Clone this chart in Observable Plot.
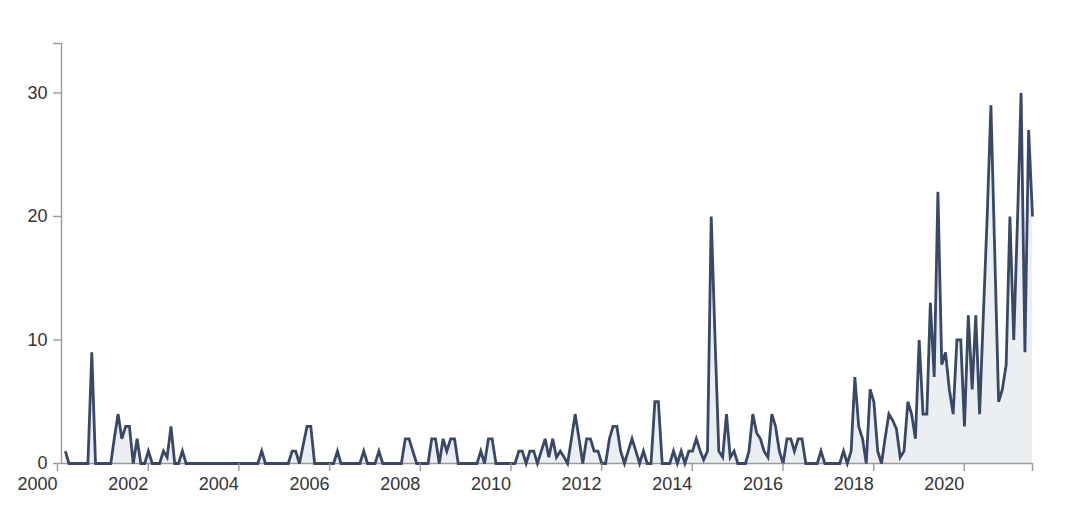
<!DOCTYPE html>
<html>
<head>
<meta charset="utf-8">
<script src="https://cdn.jsdelivr.net/npm/d3@7"></script>
<script src="https://cdn.jsdelivr.net/npm/@observablehq/plot@0.6"></script>
<style>
  html, body { margin: 0; padding: 0; background: #ffffff; }
  #chart svg { display: block; }
</style>
</head>
<body>
<div id="chart"></div>
<script>
// Monthly counts, one array per year (2000 starts in February)
const counts2000 = [1, 0, 0, 0, 0, 0, 0, 9, 0, 0, 0];
const counts2001 = [0, 0, 2, 4, 2, 3, 3, 0, 2, 0, 0, 1];
const counts2002 = [0, 0, 0, 1, 0.5, 3, 0, 0, 1, 0, 0, 0];
const counts2003 = [0, 0, 0, 0, 0, 0, 0, 0, 0, 0, 0, 0];
const counts2004 = [0, 0, 0, 0, 0, 1, 0, 0, 0, 0, 0, 0];
const counts2005 = [0, 1, 1, 0, 1.5, 3, 3, 0, 0, 0, 0, 0];
const counts2006 = [0, 1, 0, 0, 0, 0, 0, 0, 1, 0, 0, 0];
const counts2007 = [1, 0, 0, 0, 0, 0, 0, 2, 2, 1, 0, 0];
const counts2008 = [0, 0, 2, 2, 0, 2, 1, 2, 2, 0, 0, 0];
const counts2009 = [0, 0, 0, 1, 0, 2, 2, 0, 0, 0, 0, 0];
const counts2010 = [0, 1, 1, 0, 1, 1, 0, 1, 2, 0.5, 2, 0.5];
const counts2011 = [1, 0.5, 0, 2, 4, 2, 0, 2, 2, 1, 1, 0];
const counts2012 = [0, 2, 3, 3, 1, 0, 1, 2, 1, 0, 1, 0];
const counts2013 = [0, 5, 5, 0, 0, 0, 1, 0, 1, 0, 1, 1];
const counts2014 = [2, 1, 0.3, 1, 20, 10, 1, 0.5, 4, 0.5, 1, 0];
const counts2015 = [0, 0, 1, 4, 2.5, 2, 1, 0.5, 4, 3, 1, 0];
const counts2016 = [2, 2, 1, 2, 2, 0, 0, 0, 0, 1, 0, 0];
const counts2017 = [0, 0, 0, 1, 0, 1, 7, 3, 2, 0, 6, 5];
const counts2018 = [1, 0, 2, 4, 3.5, 2.8, 0.5, 1, 5, 4, 2, 10];
const counts2019 = [4, 4, 13, 7, 22, 8, 9, 6, 4, 10, 10, 3];
const counts2020 = [12, 6, 12, 4, 12, 20, 29, 17, 5, 6, 8, 20];
const counts2021 = [10, 20, 30, 9, 27, 20];

const yTicks = [0, 10, 20, 30];
const xTickYears = [2000, 2002, 2004, 2006, 2008, 2010, 2012, 2014, 2016, 2018, 2020];

// build the table: month i counts from February 2000
const allCounts = [].concat(
  counts2000, counts2001, counts2002, counts2003, counts2004, counts2005,
  counts2006, counts2007, counts2008, counts2009, counts2010, counts2011,
  counts2012, counts2013, counts2014, counts2015, counts2016, counts2017,
  counts2018, counts2019, counts2020, counts2021
);
const data = allCounts.map((v, i) => ({ date: new Date(Date.UTC(2000, 1 + i, 1)), count: v }));

const xStart = new Date(Date.UTC(2000, 0, 1));
const xEnd = data[data.length - 1].date;
const xTicks = xTickYears.map(y => new Date(Date.UTC(y, 0, 1)));

const axisGray = "#9a9a9a";
const lineColor = "#3a4868";

const chart = Plot.plot({
  width: 1080,
  height: 529,
  marginLeft: 61,
  marginRight: 48,
  marginTop: 43,
  marginBottom: 66,
  style: {
    fontFamily: "'Liberation Sans', Arial, Helvetica, sans-serif",
    fontSize: "18px",
    color: "#333",
    background: "#ffffff",
    overflow: "visible"
  },
  x: { type: "utc", domain: [xStart, xEnd] },
  y: { domain: [0, 34] },
  marks: [
    Plot.areaY(data, { x: "date", y: "count", fill: "#eceff1", curve: "linear" }),
    Plot.ruleY([0], { stroke: axisGray, strokeWidth: 1.4 }),
    Plot.ruleX([xStart], { stroke: axisGray, strokeWidth: 1.4 }),
    Plot.lineY(data, {
      x: "date", y: "count", stroke: lineColor, strokeWidth: 2.8,
      strokeLinejoin: "miter", strokeMiterlimit: 4, strokeLinecap: "butt", curve: "linear"
    }),
    Plot.axisY({
      ticks: yTicks, tickSize: 8, tickPadding: 6, stroke: axisGray, strokeWidth: 1.4,
      fill: "#333", fontSize: 18, label: null
    }),
    Plot.axisY({
      ticks: [34], tickSize: 8, stroke: axisGray, strokeWidth: 1.4,
      tickFormat: () => "", label: null
    }),
    Plot.axisX({
      ticks: xTicks, tickFormat: d3.utcFormat("%Y"), tickSize: 8, tickPadding: 6,
      stroke: axisGray, strokeWidth: 1.4, fill: "#333", fontSize: 18,
      textAnchor: "end", dx: -4, label: null
    }),
    Plot.axisX({
      ticks: [xEnd], tickSize: 8, stroke: axisGray, strokeWidth: 1.4,
      tickFormat: () => "", label: null
    })
  ]
});

document.getElementById("chart").appendChild(chart);
</script>
</body>
</html>
